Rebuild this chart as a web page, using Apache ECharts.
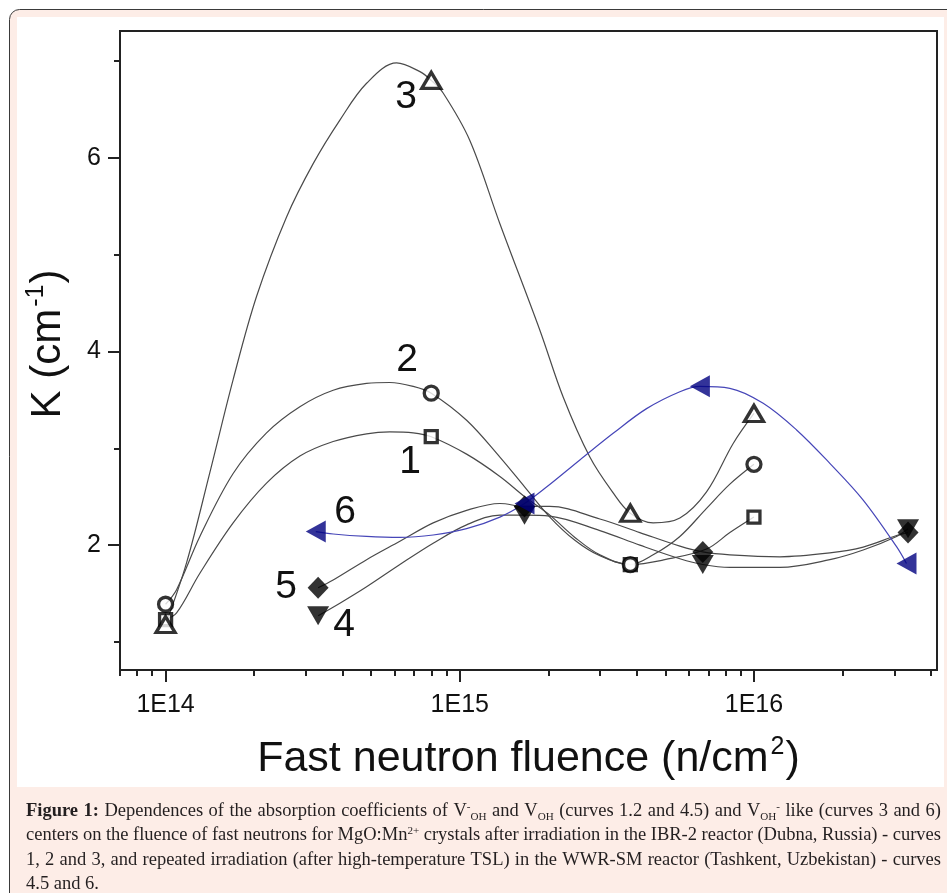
<!DOCTYPE html>
<html>
<head>
<meta charset="utf-8">
<script src="https://cdn.jsdelivr.net/npm/echarts@6/dist/echarts.min.js"></script>
<style>html,body{margin:0;padding:0;background:#fff}#main{width:947px;height:893px}</style>
</head>
<body>
<div id="main"></div>
<script>
// ---------- measured points (fluence in n/cm^2, K in cm^-1) ----------
const fluenceA = [1e14, 8e14, 3.8e15, 1e16];          // curves 1, 2, 3
const curve1K  = [1.23, 3.12, 1.80, 2.29];
const curve2K  = [1.39, 3.57, 1.80, 2.835];
const curve3K  = [1.18, 6.80, 2.33, 3.36];
const fluenceB = [3.3e14, 1.66e15, 6.7e15, 3.34e16];  // curves 4, 5
const curve4K  = [1.27, 2.31, 1.80, 2.17];
const curve5K  = [1.56, 2.40, 1.93, 2.13];
const fluence6 = [3.24e14, 1.66e15, 6.55e15, 3.3e16]; // curve 6
const curve6K  = [2.14, 2.43, 3.64, 1.81];

// ---------- fitted curves as traced on the picture: [fluence, K] ----------
const trace1 = [[1e14,1.23],[1.09e14,1.30],[1.308e14,1.71],[1.697e14,2.23],[2.204e14,2.64],[2.861e14,2.92],[3.713e14,3.07],[4.823e14,3.15],[5.785e14,3.17],[6.943e14,3.16],[8e14,3.12],[1.055e15,2.94],[1.369e15,2.71],[1.664e15,2.50],[2.024e15,2.31],[2.462e15,2.08],[2.994e15,1.90],[3.8e15,1.80],[4.978e15,1.85],[6.9e15,1.96],[8.283e15,2.13],[1e16,2.29]];
const trace2 = [[1e14,1.39],[1.09e14,1.54],[1.308e14,2.09],[1.697e14,2.74],[2.204e14,3.16],[2.861e14,3.43],[3.713e14,3.60],[4.823e14,3.67],[5.785e14,3.68],[6.943e14,3.64],[8e14,3.57],[1.055e15,3.29],[1.369e15,2.91],[1.664e15,2.60],[2.024e15,2.29],[2.462e15,2.05],[2.994e15,1.89],[3.8e15,1.80],[4.543e15,1.90],[5.6e15,2.09],[6.9e15,2.38],[8.283e15,2.63],[1e16,2.835]];
const trace3 = [[1e14,1.18],[1.179e14,1.82],[1.414e14,2.75],[1.697e14,3.71],[2.039e14,4.57],[2.578e14,5.39],[3.175e14,5.94],[3.913e14,6.39],[4.823e14,6.77],[6.1e14,6.98],[7.32e14,6.89],[8e14,6.80],[8.78e14,6.67],[1.082e15,6.18],[1.369e15,5.32],[1.872e15,4.22],[2.246e15,3.53],[2.768e15,2.91],[3.322e15,2.54],[3.8e15,2.33],[4.543e15,2.23],[5.6e15,2.28],[6.9e15,2.55],[8.5e15,3.05],[1e16,3.36]];
const trace4 = [[3.3e14,1.27],[3.913e14,1.40],[4.823e14,1.57],[6.259e14,1.80],[8.121e14,2.02],[1.055e15,2.21],[1.369e15,2.31],[1.66e15,2.31],[2.024e15,2.30],[2.994e15,2.15],[4.094e15,2.00],[5.6e15,1.86],[6.7e15,1.80],[8.283e15,1.77],[1.225e16,1.77],[1.811e16,1.85],[2.351e16,1.95],[3.053e16,2.09],[3.34e16,2.17]];
const trace5 = [[3.3e14,1.56],[3.713e14,1.64],[4.823e14,1.85],[6.259e14,2.04],[8.121e14,2.23],[1.055e15,2.36],[1.369e15,2.43],[1.66e15,2.40],[2.024e15,2.40],[2.994e15,2.27],[4.094e15,2.13],[5.6e15,1.99],[6.7e15,1.93],[8.283e15,1.90],[1.225e16,1.88],[1.811e16,1.92],[2.351e16,1.98],[3.053e16,2.10],[3.34e16,2.13]];
const trace6 = [[3.24e14,2.14],[3.713e14,2.115],[4.823e14,2.09],[6.259e14,2.08],[8.121e14,2.105],[1.055e15,2.17],[1.369e15,2.29],[1.66e15,2.43],[1.972e15,2.60],[2.56e15,2.88],[3.322e15,3.155],[4.315e15,3.41],[5.6e15,3.585],[6.55e15,3.64],[8.283e15,3.62],[1.075e16,3.465],[1.396e16,3.19],[1.811e16,2.845],[2.351e16,2.466],[3.053e16,1.984],[3.3e16,1.81]];

// ---------- axes ----------
const xMin = 7e13, xMax = 4.19e16;
const yMin = 0.7108, yMax = 7.3098;
const xMajorTicks = [1e14, 1e15, 1e16];
const xMajorLabels = ['1E14', '1E15', '1E16'];
const xMinorTicks = [7e13, 8e13, 9e13, 2e14, 3e14, 4e14, 5e14, 6e14, 7e14, 8e14, 9e14,
                     2e15, 3e15, 4e15, 5e15, 6e15, 7e15, 8e15, 9e15, 2e16, 3e16, 4e16];
const yMajorTicks = [2, 4, 6];
const yMinorTicks = [1, 3, 5, 7];
const curveNames = ['1', '2', '3', '4', '5', '6'];

// ---------- caption ----------
const captionLines = [
  [[['b','Figure']],[['b','1:']],'Dependences','of','the','absorption','coefficients','of',[['n','V'],['sup','-'],['sub','OH']],'and',[['n','V'],['sub','OH']],'(curves','1.2','and','4.5)','and',[['n','V'],['sub','OH'],['sup','-']],'like','(curves','3','and','6)'],
  ['centers','on','the','fluence','of','fast','neutrons','for',[['n','MgO:Mn'],['sup','2+']],'crystals','after','irradiation','in','the','IBR-2','reactor','(Dubna,','Russia)','-','curves'],
  ['1,','2','and','3,','and','repeated','irradiation','(after','high-temperature','TSL)','in','the','WWR-SM','reactor','(Tashkent,','Uzbekistan)','-','curves'],
  ['4.5','and','6.']
];

const L10 = v => Math.log10(v);
const pts = (xs, ys) => xs.map((x, i) => [L10(x), ys[i]]);
const tr = t => t.map(p => [L10(p[0]), p[1]]);

const AX = '#222', INK = '#111', GRAY = '#4a4a4a', BLUE = '#4646b8', NAVY = '#00007f';
const SANS = 'Liberation Sans';

function lineSeries(trace, color) {
  return {type: 'line', data: tr(trace), smooth: 0.35, showSymbol: false, symbol: 'none',
          lineStyle: {color: color, width: 1.2}, z: 2, silent: true, emphasis: {disabled: true}};
}
function markSeries(xs, ys, extra) {
  return Object.assign({type: 'scatter', data: pts(xs, ys), z: 5, silent: true, emphasis: {disabled: true}}, extra);
}
const openStyle = {color: '#fff', borderColor: '#000', borderWidth: 3.3};

function buildCaption() {
  const ctx = document.createElement('canvas').getContext('2d');
  const F = 'Liberation Serif';
  const s = 18.5;
  const norm = w => typeof w === 'string' ? [['n', w]] : w;
  const fsOf = k => (k === 'sub' || k === 'sup') ? s * 0.6 : s;
  const fontOf = k => (k === 'b' ? 'bold ' : '') + fsOf(k).toFixed(2) + 'px "' + F + '"';
  const segW = seg => { ctx.font = fontOf(seg[0]); return ctx.measureText(seg[1]).width; };
  const wordW = w => norm(w).reduce((a, seg) => a + segW(seg), 0);
  const left = 26, right = 941, base0 = 817, lead = 24.6;
  const target = right - left;
  let k = 1;
  for (let i = 0; i < 3; i++) {
    const Ln = captionLines[i];
    const nat = Ln.reduce((a, w) => a + wordW(w), 0) + (Ln.length - 1) * 0.22 * s;
    k = Math.min(k, target / nat);
  }
  const els = [];
  captionLines.forEach((Ln, i) => {
    const ws = Ln.map(w => wordW(w) * k);
    const sum = ws.reduce((a, b) => a + b, 0);
    const gap = i < 3 ? (target - sum) / (Ln.length - 1) : 0.25 * s * k;
    let x = left;
    const base = base0 + i * lead;
    Ln.forEach((w, j) => {
      let cx = x;
      norm(w).forEach(seg => {
        const kind = seg[0], t = seg[1];
        const fs = fsOf(kind);
        const off = kind === 'sub' ? 0.22 * s : (kind === 'sup' ? -0.36 * s : 0);
        els.push({type: 'text', x: cx, y: base + off - 0.3375 * fs, scaleX: k, z: 50, silent: true,
          style: {text: t, font: fontOf(kind), fill: '#231f20', align: 'left', verticalAlign: 'middle',
                  textAlign: 'left', textVerticalAlign: 'middle'}});
        cx += segW(seg) * k;
      });
      x += ws[j] + gap;
    });
  });
  return els;
}

function curveLabel(text, x, y) {
  return {type: 'text', x: x, y: y, z: 40, silent: true,
    style: {text: text, font: '39px "' + SANS + '"', fill: INK, align: 'center', verticalAlign: 'middle',
            textAlign: 'center', textVerticalAlign: 'middle'}};
}

const tickLine = {color: AX, width: 2};
const nameRich = (fs) => ({
  a: {fontFamily: SANS, fontSize: fs, lineHeight: 48, color: INK},
  s: {fontFamily: SANS, fontSize: 25, lineHeight: 26, verticalAlign: 'top', color: INK, padding: [0, 1, 0, 2]}
});

const option = {
  animation: false,
  backgroundColor: 'transparent',
  textStyle: {fontFamily: SANS},
  grid: {left: 120, right: 10, top: 31, bottom: 223, show: true, borderColor: AX, borderWidth: 2,
         backgroundColor: '#fff', containLabel: false, outerBoundsMode: 'none'},
  xAxis: [
    {type: 'value', min: L10(xMin), max: L10(xMax), position: 'bottom',
     axisLine: {show: true, onZero: false, lineStyle: {color: AX, width: 2}},
     axisTick: {show: true, customValues: xMajorTicks.map(L10), length: 12, lineStyle: tickLine},
     axisLabel: {show: true, customValues: xMajorTicks.map(L10),
                 formatter: v => xMajorLabels[xMajorTicks.findIndex(t => Math.abs(L10(t) - v) < 1e-6)] || '',
                 margin: 23, fontSize: 25, fontFamily: SANS, color: INK},
     splitLine: {show: false},
     name: '{a|Fast neutron fluence (n/cm}{s|2}{a|)}', nameLocation: 'middle', nameGap: 65,
     nameTextStyle: {fontFamily: SANS, fontSize: 43, color: INK, rich: nameRich(43)}},
    {type: 'value', min: L10(xMin), max: L10(xMax), position: 'bottom',
     axisLine: {show: false}, axisTick: {show: true, customValues: xMinorTicks.map(L10), length: 6, lineStyle: tickLine},
     axisLabel: {show: false}, splitLine: {show: false}}
  ],
  yAxis: [
    {type: 'value', min: yMin, max: yMax, position: 'left',
     axisLine: {show: true, onZero: false, lineStyle: {color: AX, width: 2}},
     axisTick: {show: true, customValues: yMajorTicks, length: 12, lineStyle: tickLine},
     axisLabel: {show: true, customValues: yMajorTicks, formatter: v => String(Math.round(v)),
                 margin: 19, fontSize: 25, fontFamily: SANS, color: INK},
     splitLine: {show: false},
     name: '{a|K (cm}{s|-1}{a|)}', nameLocation: 'middle', nameRotate: 90, nameGap: 48,
     nameTextStyle: {fontFamily: SANS, fontSize: 42, color: INK, padding: [0, 0, 0, 13], rich: nameRich(42)}},
    {type: 'value', min: yMin, max: yMax, position: 'left',
     axisLine: {show: false}, axisTick: {show: true, customValues: yMinorTicks, length: 6, lineStyle: tickLine},
     axisLabel: {show: false}, splitLine: {show: false}}
  ],
  series: [
    lineSeries(trace1, GRAY), lineSeries(trace2, GRAY), lineSeries(trace3, GRAY),
    lineSeries(trace4, GRAY), lineSeries(trace5, GRAY), lineSeries(trace6, BLUE),
    markSeries(fluenceA, curve1K, {symbol: 'rect', symbolSize: 12, itemStyle: openStyle}),
    markSeries(fluenceA, curve2K, {symbol: 'circle', symbolSize: 14, itemStyle: openStyle}),
    markSeries(fluenceA, curve3K, {symbol: 'triangle', symbolSize: [19, 16], itemStyle: openStyle}),
    markSeries(fluenceB, curve4K, {symbol: 'triangle', symbolRotate: 180, symbolSize: [22, 19], itemStyle: {color: '#000'}}),
    markSeries(fluenceB, curve5K, {symbol: 'diamond', symbolSize: [21, 22], itemStyle: {color: '#000'}}),
    markSeries(fluence6, curve6K, {symbol: 'triangle', symbolRotate: 90, symbolSize: [22, 20], itemStyle: {color: NAVY}})
  ],
  graphic: {elements: [
    {type: 'rect', z: -100, silent: true, shape: {x: 9.5, y: 9.5, width: 960, height: 910, r: 10},
     style: {fill: '#fdede7', stroke: '#3a3a3a', lineWidth: 1}},
    {type: 'rect', z: -99, silent: true, shape: {x: 17, y: 17, width: 927, height: 770}, style: {fill: '#fff'}},
    curveLabel(curveNames[0], 410, 462),
    curveLabel(curveNames[1], 407, 360),
    curveLabel(curveNames[2], 406, 97),
    curveLabel(curveNames[3], 344, 625),
    curveLabel(curveNames[4], 286, 587),
    curveLabel(curveNames[5], 345, 512)
  ].concat(buildCaption())}
};

const chart = echarts.init(document.getElementById('main'), null, {renderer: 'canvas'});
chart.setOption(option);
</script>
</body>
</html>
